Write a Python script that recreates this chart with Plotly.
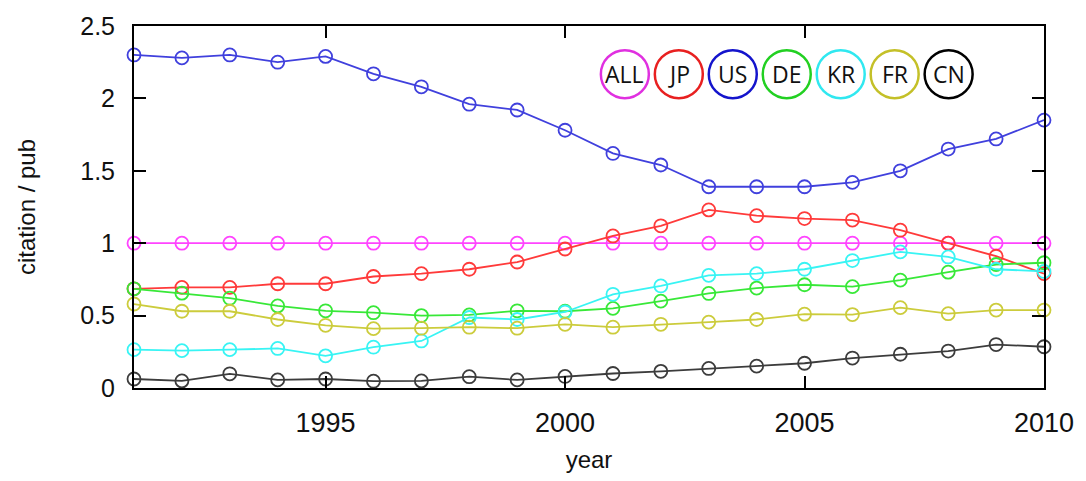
import plotly.graph_objects as go

years = list(range(1991, 2011))

ALL = [1.0] * 20
JP = [0.685, 0.695, 0.695, 0.72, 0.72, 0.77, 0.79, 0.82, 0.87, 0.96,
      1.05, 1.12, 1.23, 1.19, 1.17, 1.16, 1.09, 1.00, 0.91, 0.79]
US = [2.30, 2.28, 2.30, 2.25, 2.29, 2.17, 2.08, 1.96, 1.92, 1.78,
      1.62, 1.54, 1.39, 1.39, 1.39, 1.42, 1.50, 1.65, 1.72, 1.85]
DE = [0.685, 0.655, 0.62, 0.567, 0.533, 0.52, 0.50, 0.505, 0.533, 0.53,
      0.55, 0.60, 0.653, 0.69, 0.713, 0.70, 0.745, 0.80, 0.853, 0.865]
KR = [0.265, 0.258, 0.265, 0.273, 0.222, 0.282, 0.325, 0.487, 0.473, 0.525,
      0.647, 0.705, 0.778, 0.79, 0.82, 0.88, 0.94, 0.905, 0.82, 0.805]
FR = [0.58, 0.53, 0.53, 0.473, 0.433, 0.41, 0.413, 0.42, 0.413, 0.44,
      0.42, 0.44, 0.455, 0.473, 0.51, 0.507, 0.555, 0.513, 0.538, 0.538]
CN = [0.062, 0.049, 0.098, 0.056, 0.062, 0.047, 0.049, 0.078, 0.056, 0.08,
      0.10, 0.115, 0.135, 0.151, 0.171, 0.207, 0.233, 0.255, 0.30, 0.285]

names = ["ALL", "JP", "US", "DE", "KR", "FR", "CN"]
series = [ALL, JP, US, DE, KR, FR, CN]
line_colors = ["#ff44ff", "#ff3a3a", "#4040dd", "#38e838", "#38f4f4", "#cccc3c", "#3c3c3c"]
legend_colors = ["#e030e0", "#e82020", "#1414cc", "#22d022", "#30e8f0", "#c4c028", "#000000"]

x_ticks = [1995, 2000, 2005, 2010]
y_ticks = [0, 0.5, 1, 1.5, 2, 2.5]

fig = go.Figure()
for name, vals, col in zip(names, series, line_colors):
    fig.add_trace(go.Scatter(
        x=years, y=vals, name=name, mode="lines+markers",
        line=dict(color=col, width=1.8),
        marker=dict(symbol="circle-open", size=13, color=col, line=dict(width=1.8, color=col)),
        cliponaxis=False, showlegend=False,
    ))

# circular legend
shapes = []
annotations = []
x_start, x_step, y_leg = 0.5394, 0.0593, 0.867
for i, (name, col) in enumerate(zip(names, legend_colors)):
    xc = x_start + i * x_step
    shapes.append(dict(type="circle", xref="paper", yref="paper",
                       xsizemode="pixel", ysizemode="pixel",
                       xanchor=xc, yanchor=y_leg, x0=-24, x1=24, y0=-24, y1=24,
                       line=dict(color=col, width=2.5), fillcolor="white"))
    annotations.append(dict(x=xc, y=y_leg, xref="paper", yref="paper", text=name,
                            showarrow=False, xanchor="center", yanchor="middle",
                            font=dict(family="Open Sans", size=23, color="#111111")))

fig.update_layout(
    width=1086, height=481,
    margin=dict(l=134, r=38, t=22, b=84),
    paper_bgcolor="white", plot_bgcolor="white",
    shapes=shapes, annotations=annotations,
    font=dict(family="Liberation Sans, Arial, sans-serif", color="#111111"),
)
fig.update_xaxes(
    range=[1991, 2010], tickvals=x_ticks, ticktext=[str(v) for v in x_ticks],
    ticks="inside", ticklen=12, tickwidth=1.5, tickcolor="black",
    showline=True, linecolor="black", linewidth=2, mirror="ticks",
    showgrid=False, zeroline=False, tickfont=dict(size=27),
    ticklabelstandoff=10, ticklabeloverflow="allow",
    title=dict(text="year", font=dict(size=24), standoff=14),
)
fig.update_yaxes(
    range=[0, 2.5], tickvals=y_ticks,
    ticks="inside", ticklen=12, tickwidth=1.5, tickcolor="black",
    showline=True, linecolor="black", linewidth=2, mirror="ticks",
    showgrid=False, zeroline=False, tickfont=dict(size=25),
    ticklabelstandoff=12, ticklabeloverflow="allow",
    title=dict(text="citation / pub", font=dict(size=24), standoff=38),
)

fig.write_html(
    "out.html",
    config={"displayModeBar": False},
    post_script="document.body.style.margin='0';document.body.style.overflow='hidden';",
)
